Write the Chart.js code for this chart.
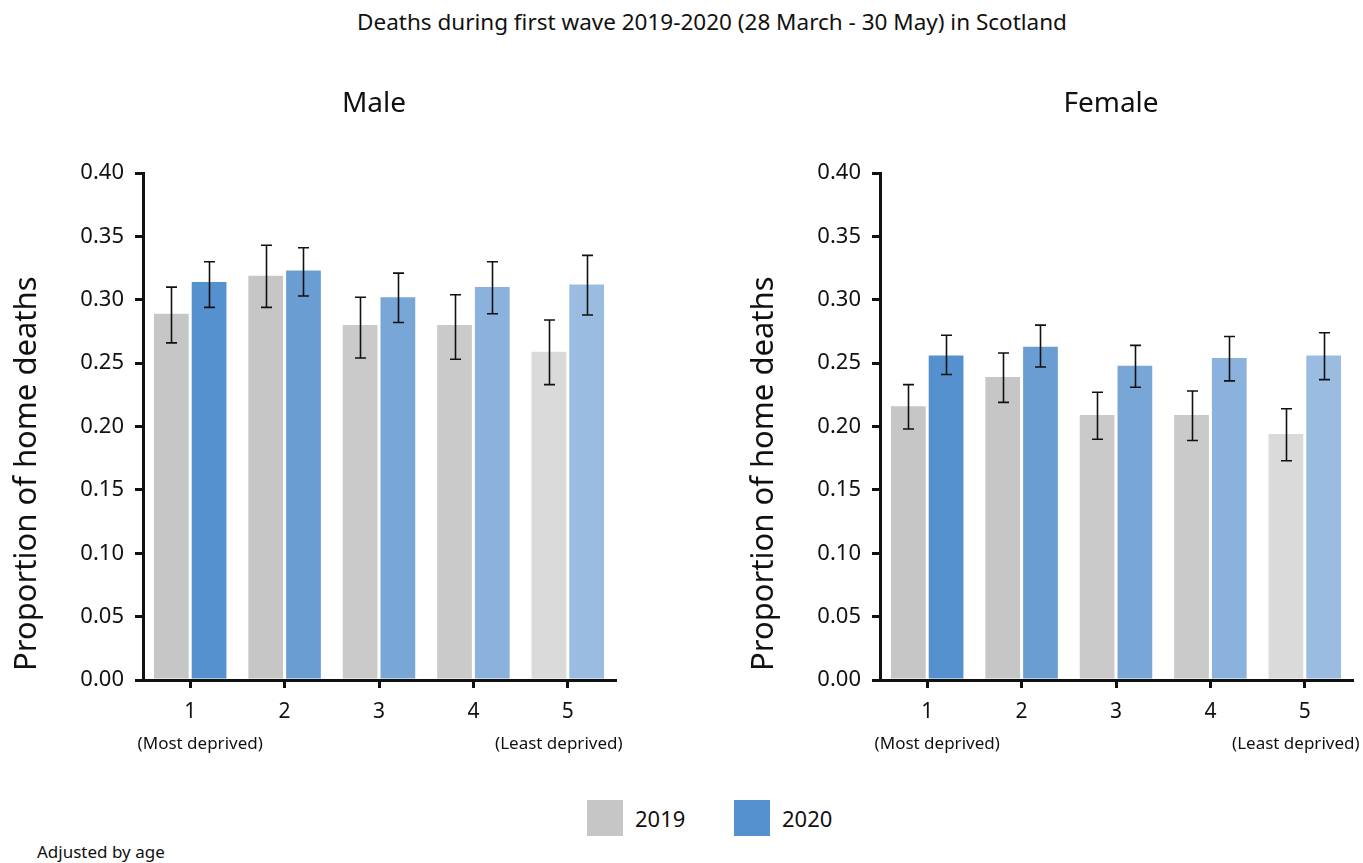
<!DOCTYPE html>
<html>
<head>
<meta charset="utf-8">
<title>Deaths during first wave 2019-2020 in Scotland</title>
<script src="https://cdn.jsdelivr.net/npm/chart.js@4.4.1/dist/chart.umd.min.js"></script>
<style>
  body { margin: 0; background: #fff; font-family: "Noto Sans", sans-serif; color: #111; }
  #page { position: relative; width: 1363px; height: 863px; overflow: hidden; background: #fff; }
  #mainTitle { position: absolute; left: 0; width: 1424px; top: 6px; text-align: center; font-size: 22.5px; }
  .panel { position: absolute; top: 60px; height: 720px; }
  #panelMale { left: 0; width: 640px; }
  #panelFemale { left: 737px; width: 626px; }
  .legend { position: absolute; top: 800px; display: flex; align-items: center; font-size: 22px; }
  .swatch { width: 36px; height: 36px; margin-right: 12px; }
  #note { position: absolute; left: 37px; top: 840px; font-size: 17px; }
</style>
</head>
<body>
<div id="page">
  <div id="mainTitle">Deaths during first wave 2019-2020 (28 March - 30 May) in Scotland</div>
  <div class="panel" id="panelMale"><canvas id="maleChart"></canvas></div>
  <div class="panel" id="panelFemale"><canvas id="femaleChart"></canvas></div>
  <div class="legend" style="left:587px"><div class="swatch" style="background:#c6c6c6"></div>2019</div>
  <div class="legend" style="left:734px"><div class="swatch" style="background:#5591ce"></div>2020</div>
  <div id="note">Adjusted by age</div>
</div>
<script>
// Deprivation quintiles (1 = most deprived, 5 = least deprived)
const quintiles = ["1", "2", "3", "4", "5"];
const quintileNotes = ["(Most deprived)", "", "", "", "(Least deprived)"];
const years = ["2019", "2020"];
const yTicks = [0, 0.05, 0.10, 0.15, 0.20, 0.25, 0.30, 0.35, 0.40];

// Male: age-adjusted proportion of home deaths with confidence intervals
const male2019 = [0.289, 0.319, 0.280, 0.280, 0.259];
const male2019Low = [0.266, 0.294, 0.254, 0.253, 0.233];
const male2019High = [0.310, 0.343, 0.302, 0.304, 0.284];
const male2020 = [0.314, 0.323, 0.302, 0.310, 0.312];
const male2020Low = [0.294, 0.303, 0.282, 0.289, 0.288];
const male2020High = [0.330, 0.341, 0.321, 0.330, 0.335];

// Female
const female2019 = [0.216, 0.239, 0.209, 0.209, 0.194];
const female2019Low = [0.198, 0.219, 0.190, 0.189, 0.173];
const female2019High = [0.233, 0.258, 0.227, 0.228, 0.214];
const female2020 = [0.256, 0.263, 0.248, 0.254, 0.256];
const female2020Low = [0.241, 0.247, 0.231, 0.236, 0.237];
const female2020High = [0.272, 0.280, 0.264, 0.271, 0.274];

// Shades per quintile
const greys = ["#c6c6c6", "#c6c6c6", "#cacaca", "#cacaca", "#dadada"];
const blues = ["#5591ce", "#6a9ed3", "#78a6d6", "#8ab2dd", "#9abce1"];

const FONT = "'Noto Sans', sans-serif";

// Draws confidence-interval whiskers on top of each bar
const errorBarPlugin = {
  id: 'errorBars',
  afterDatasetsDraw(chart) {
    const ctx = chart.ctx;
    const yScale = chart.scales.y;
    ctx.save();
    ctx.strokeStyle = '#111';
    ctx.lineWidth = 1.6;
    chart.data.datasets.forEach((ds, i) => {
      const meta = chart.getDatasetMeta(i);
      meta.data.forEach((bar, j) => {
        const x = Math.round(bar.x) + 0.5;
        const yHi = yScale.getPixelForValue(ds.errHigh[j]);
        const yLo = yScale.getPixelForValue(ds.errLow[j]);
        ctx.beginPath();
        ctx.moveTo(x, yHi); ctx.lineTo(x, yLo);
        ctx.moveTo(x - 5.5, yHi); ctx.lineTo(x + 5.5, yHi);
        ctx.moveTo(x - 5.5, yLo); ctx.lineTo(x + 5.5, yLo);
        ctx.stroke();
      });
    });
    ctx.restore();
  }
};

// Panel heading, rotated y-axis caption and the notes under the end quintiles
const captionPlugin = {
  id: 'captions',
  afterDraw(chart, args, opts) {
    const ctx = chart.ctx;
    const area = chart.chartArea;
    const xScale = chart.scales.x;

    ctx.save();
    ctx.fillStyle = '#111';
    ctx.font = "28px " + FONT;
    ctx.textAlign = 'center';
    ctx.textBaseline = 'alphabetic';
    ctx.fillText(opts.heading, (area.left + area.right) / 2 - 5, area.top - 61);
    ctx.restore();

    ctx.save();
    ctx.fillStyle = '#111';
    ctx.font = "31px " + FONT;
    ctx.translate(area.left - 107, area.bottom - 9);
    ctx.rotate(-Math.PI / 2);
    ctx.textAlign = 'left';
    ctx.textBaseline = 'alphabetic';
    ctx.fillText('Proportion of home deaths', 0, 0);
    ctx.restore();

    ctx.save();
    ctx.fillStyle = '#111';
    ctx.font = "17px " + FONT;
    ctx.textBaseline = 'middle';
    ctx.textAlign = 'center';
    quintileNotes.forEach((note, i) => {
      if (!note) return;
      const shift = i === 0 ? 10 : -9;
      ctx.fillText(note, xScale.getPixelForValue(i) + shift, area.bottom + 64);
    });
    ctx.restore();
  }
};

function makeChart(canvasId, heading, v19, lo19, hi19, v20, lo20, hi20, rightPad) {
  return new Chart(document.getElementById(canvasId), {
    type: 'bar',
    data: {
      labels: quintiles,
      datasets: [
        { label: years[0], data: v19, errLow: lo19, errHigh: hi19, backgroundColor: greys,
          borderWidth: 0, categoryPercentage: 0.8, barPercentage: 0.92 },
        { label: years[1], data: v20, errLow: lo20, errHigh: hi20, backgroundColor: blues,
          borderWidth: 0, categoryPercentage: 0.8, barPercentage: 0.92 }
      ]
    },
    options: {
      responsive: true,
      maintainAspectRatio: false,
      animation: false,
      layout: { padding: { left: 0, right: rightPad, top: 113, bottom: 0 } },
      plugins: {
        legend: { display: false },
        tooltip: { enabled: false },
        title: { display: false },
        captions: { heading: heading }
      },
      scales: {
        x: {
          grid: { display: true, drawOnChartArea: false, offset: false, color: '#111',
                  lineWidth: 3, tickLength: 8, tickWidth: 3 },
          border: { display: true, color: '#111', width: 3 },
          ticks: { color: '#111', font: { family: FONT, size: 21 }, padding: 11 },
          afterFit(scale) { scale.height = 100; }
        },
        y: {
          min: 0, max: 0.4,
          afterBuildTicks(scale) { scale.ticks = yTicks.map(v => ({ value: v })); },
          grid: { display: true, drawOnChartArea: false, color: '#111',
                  lineWidth: 3, tickLength: 8, tickWidth: 3 },
          border: { display: true, color: '#111', width: 3 },
          ticks: { color: '#111', font: { family: FONT, size: 22 }, padding: 11,
                   callback: v => Number(v).toFixed(2) },
          afterFit(scale) { scale.width = 143; }
        }
      }
    },
    plugins: [errorBarPlugin, captionPlugin]
  });
}

makeChart('maleChart', 'Male', male2019, male2019Low, male2019High,
          male2020, male2020Low, male2020High, 25);
makeChart('femaleChart', 'Female', female2019, female2019Low, female2019High,
          female2020, female2020Low, female2020High, 11);
</script>
</body>
</html>
